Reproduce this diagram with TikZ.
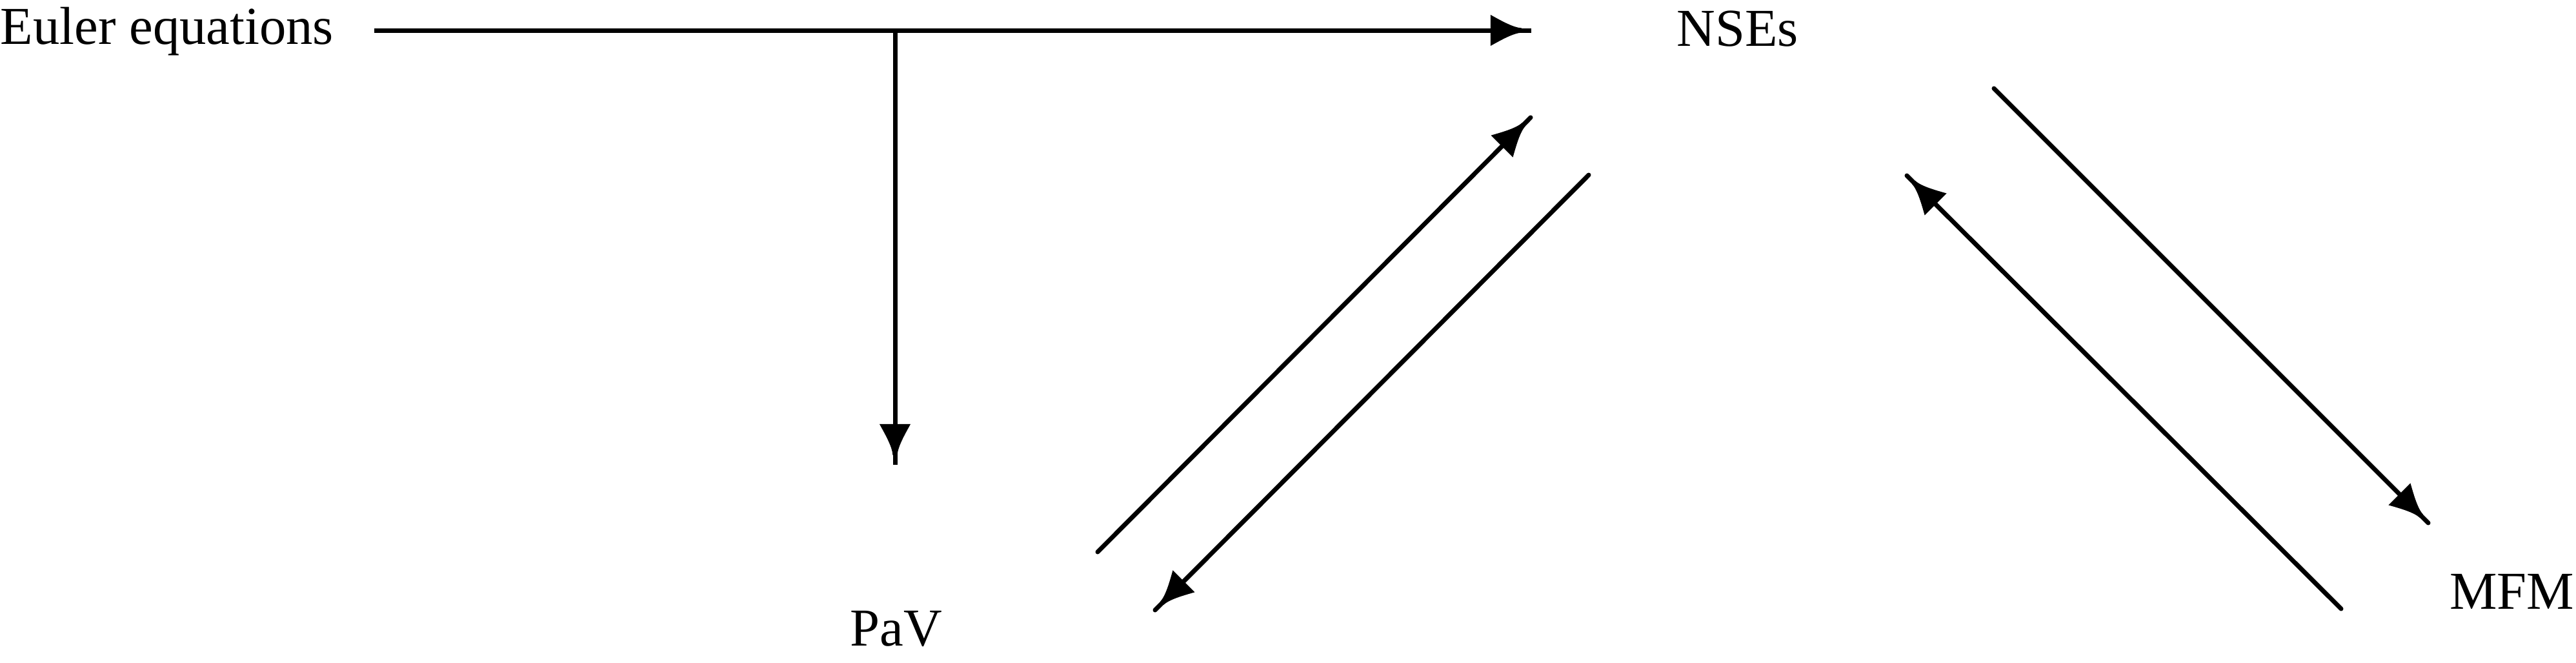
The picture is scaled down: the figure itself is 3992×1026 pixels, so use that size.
\documentclass[tikz,border=0pt]{standalone}
\usepackage{fontspec}
\setmainfont{Liberation Serif}
\usetikzlibrary{arrows.meta}
\pgfdeclarearrow{
  name = Funnel,
  setup code = {
    \pgfarrowssettipend{0pt}
    \pgfarrowssetlineend{0pt}
    \pgfarrowssetbackend{-0.63cm}
    \pgfarrowssetvisualbackend{-0.63cm}
    \pgfarrowsupperhullpoint{-0.63cm}{0.24cm}
    \pgfarrowsupperhullpoint{0pt}{0.035cm}
  },
  drawing code = {
    \pgfpathmoveto{\pgfpoint{-0.63cm}{0.24cm}}
    \pgfpathcurveto{\pgfpoint{-0.45cm}{0.14cm}}{\pgfpoint{-0.28cm}{0.045cm}}{\pgfpoint{-0.15cm}{0.035cm}}
    \pgfpathlineto{\pgfpoint{-0.15cm}{-0.035cm}}
    \pgfpathcurveto{\pgfpoint{-0.28cm}{-0.045cm}}{\pgfpoint{-0.45cm}{-0.14cm}}{\pgfpoint{-0.63cm}{-0.24cm}}
    \pgfpathclose
    \pgfusepathqfill
  }
}
\tikzset{
  lbl/.style={inner sep=0pt, font=\fontsize{23.5pt}{28pt}\selectfont},
  conn/.style={line width=0.07cm, line cap=butt, -{Funnel}},
  diag/.style={line width=0.07cm, line cap=round, -{Funnel}},
  plain/.style={line width=0.07cm, line cap=round}
}
\begin{document}
\begin{tikzpicture}[x=0.01cm,y=-0.01cm]
\useasboundingbox (0,0) rectangle (3992,1026);
\node[lbl, anchor=base west] (euler) at (0,68) {Euler equations};
\node[lbl, anchor=base west] (nse) at (2598,71) {NSEs};
\node[lbl, anchor=base west] (pav) at (1317,1000) {PaV};
\node[lbl, anchor=base east] (mfm) at (3990,943) {MFM};
\coordinate (h0) at (580,47);
\coordinate (h1) at (2373,47);
\coordinate (j) at (1387,47);
\coordinate (v1) at (1387,720);
\coordinate (d1a) at (1701,855);
\coordinate (d1b) at (2372,182);
\coordinate (d2a) at (2462,271);
\coordinate (d2b) at (1790,945);
\coordinate (d3a) at (3090,137);
\coordinate (d3b) at (3763,810);
\coordinate (d4a) at (3628,943);
\coordinate (d4b) at (2955,272);
\draw[conn] (h0) -- (h1);
\draw[conn] (j) -- (v1);
\draw[diag] (d1a) -- (d1b);
\draw[diag] (d2a) -- (d2b);
\draw[diag] (d3a) -- (d3b);
\draw[diag] (d4a) -- (d4b);
\end{tikzpicture}
\end{document}
